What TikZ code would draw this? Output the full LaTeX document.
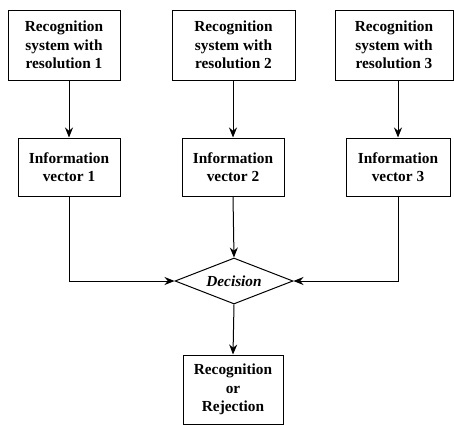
\documentclass[tikz,border=0pt]{standalone}
\usepackage{fontspec}
\setmainfont{Liberation Serif}
\usetikzlibrary{shapes.geometric,arrows.meta}

\tikzset{every picture/.style={line width=0.75pt}}
\tikzset{
  blockbox/.style={draw, align=center, inner sep=0pt, font=\fontsize{11.5}{13.9}\selectfont\bfseries},
  decisionbox/.style={draw, diamond, aspect=2.5, inner sep=0pt, minimum width=88.5pt, minimum height=34.5pt, font=\fontsize{11.5}{13.9}\selectfont\bfseries\itshape},
  flowarrow/.style={-{Stealth[length=7.5pt,width=6pt]}}
}

\begin{document}
\begin{tikzpicture}[x=0.75pt,y=0.75pt,yscale=-1,xscale=1]
\useasboundingbox (0,0) rectangle (454,425);

% Text Node
\node [blockbox, minimum width=84pt, minimum height=52.5pt] (sys1) at (64,45) {Recognition\\system with\\resolution 1};
% Text Node
\node [blockbox, minimum width=92.25pt, minimum height=52.5pt] (sys2) at (233.5,45) {Recognition\\system with\\resolution 2};
% Text Node
\node [blockbox, minimum width=88.5pt, minimum height=52.5pt] (sys3) at (394,45) {Recognition\\system with\\resolution 3};

% Text Node
\node [blockbox, minimum width=76.5pt, minimum height=43.5pt] (info1) at (69,167) {Information\\vector 1};
% Text Node
\node [blockbox, minimum width=76.5pt, minimum height=43.5pt] (info2) at (233,167) {Information\\vector 2};
% Text Node
\node [blockbox, minimum width=78pt, minimum height=43.5pt] (info3) at (398,167) {Information\\vector 3};

% Text Node
\node [decisionbox] (dec) at (234,281) {Decision};

% Text Node
\node [blockbox, minimum width=75pt, minimum height=51.75pt] (result) at (233,389.5) {Recognition\\or\\Rejection};

%Straight Lines
\draw [flowarrow] (info1.north |- sys1.south) -- (info1.north);
\draw [flowarrow] (info2.north |- sys2.south) -- (info2.north);
\draw [flowarrow] (info3.north |- sys3.south) -- (info3.north);

%Straight Lines
\draw [flowarrow] (info1.south) |- (dec.west);
\draw [flowarrow] (info2.south) -- (dec.north);
\draw [flowarrow] (info3.south) |- (dec.east);

%Straight Lines
\draw [flowarrow] (dec.south) -- (result.north);

\end{tikzpicture}
\end{document}
